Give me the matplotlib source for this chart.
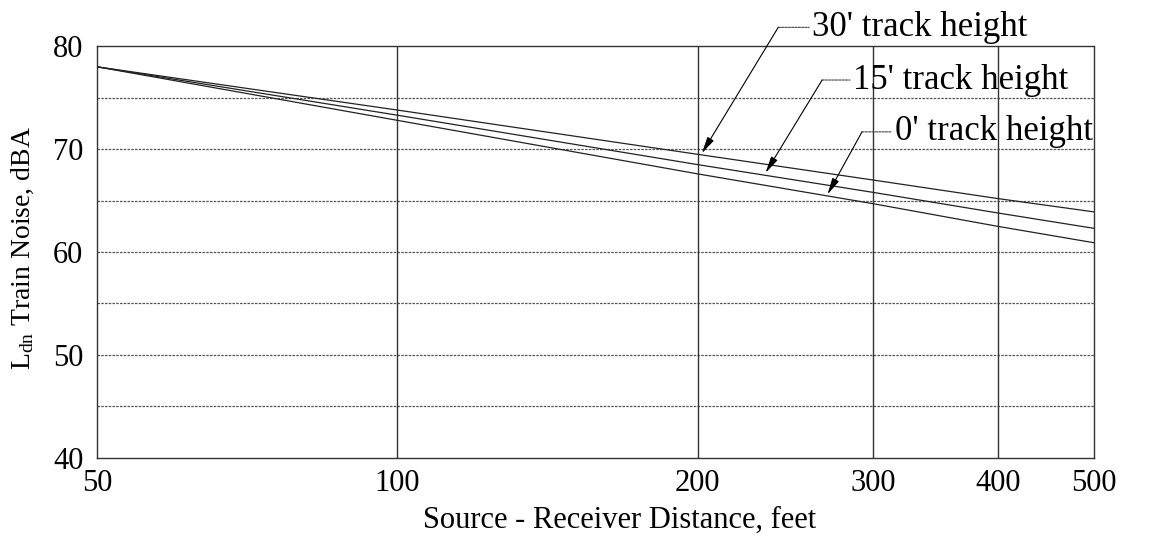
import matplotlib
matplotlib.use("Agg")
import matplotlib.pyplot as plt
from matplotlib.ticker import FixedLocator, NullLocator

plt.rcParams["font.family"] = ["Liberation Serif", "DejaVu Serif"]
plt.rcParams["mathtext.fontset"] = "custom"
plt.rcParams["mathtext.rm"] = "Liberation Serif"
plt.rcParams["mathtext.it"] = "Liberation Serif:italic"

# distance from track (feet) and Ldn levels for each track height
distance = [50, 100, 200, 300, 400, 500]
ldn_30ft = [78.0, 73.8, 69.5, 67.0, 65.2, 63.9]
ldn_15ft = [78.0, 73.3, 68.5, 65.8, 63.8, 62.3]
ldn_0ft = [78.0, 72.8, 67.6, 64.7, 62.5, 60.9]

x_ticks = [50, 100, 200, 300, 400, 500]
y_ticks = [40, 50, 60, 70, 80]
y_grid = [45, 50, 55, 60, 65, 70, 75]

labels = ["30' track height", "15' track height", "0' track height"]
# (arrow tip distance, arrow tip level) on each curve, and the label anchor in axes coords
arrow_tips = [(202, 69.6), (234, 67.7), (270, 65.6)]
label_pos = [(0.717, 1.046), (0.758, 0.918), (0.800, 0.792)]
label_elbow = [(0.683, 1.046), (0.727, 0.918), (0.767, 0.792)]

fig = plt.figure(figsize=(11.58, 5.38), dpi=100)
ax = fig.add_axes([0.084, 0.149, 0.861, 0.765])
ax.set_xscale("log")
ax.set_xlim(50, 500)
ax.set_ylim(40, 80)

for y in y_grid:
    ax.axhline(y, color="#555555", lw=0.9, ls=(0, (2, 1)), zorder=1)
for x in x_ticks[1:-1]:
    ax.axvline(x, color="#333333", lw=1.0, zorder=1)

for vals in (ldn_30ft, ldn_15ft, ldn_0ft):
    ax.plot(distance, vals, color="#222222", lw=0.9, zorder=3)

ax.xaxis.set_major_locator(FixedLocator(x_ticks))
ax.xaxis.set_minor_locator(NullLocator())
ax.set_xticklabels([str(v) for v in x_ticks])
ax.set_yticks(y_ticks)
ax.tick_params(length=0, labelsize=22)
ax.tick_params(axis="x", pad=8)
ax.tick_params(axis="y", pad=10)

for name, sp in ax.spines.items():
    sp.set_color("#333333")
    sp.set_linewidth(1.0)
    if name != "left":
        sp.set_linestyle((0, (2, 1)))

ax.set_xlabel("Source - Receiver Distance, feet", fontsize=22)
ax.xaxis.set_label_coords(0.5236, -0.152)
ax.xaxis.label.set_va("center")
ax.set_ylabel(r"L$_{\rm dn}$ Train Noise, dBA", fontsize=20)
ax.yaxis.set_label_coords(-0.0742, 0.51)
ax.yaxis.label.set_va("center")

for text, tip, pos, elbow in zip(labels, arrow_tips, label_pos, label_elbow):
    ax.annotate("", xy=tip, xycoords="data", xytext=elbow, textcoords="axes fraction",
                arrowprops=dict(arrowstyle="-|>,head_length=1.0,head_width=0.22",
                                color="black", lw=0.8, shrinkA=0, shrinkB=0),
                annotation_clip=False, zorder=5)
    ax.annotate("", xy=(pos[0] - 0.003, pos[1]), xycoords="axes fraction",
                xytext=elbow, textcoords="axes fraction",
                arrowprops=dict(arrowstyle="-", color="#444444", lw=0.8, ls=(0, (2, 1)),
                                shrinkA=0, shrinkB=0),
                annotation_clip=False)
    ax.text(pos[0], pos[1], text, transform=ax.transAxes, fontsize=25,
            ha="left", va="center", zorder=6, clip_on=False)

fig.savefig("out.png", dpi=100, facecolor="white")
